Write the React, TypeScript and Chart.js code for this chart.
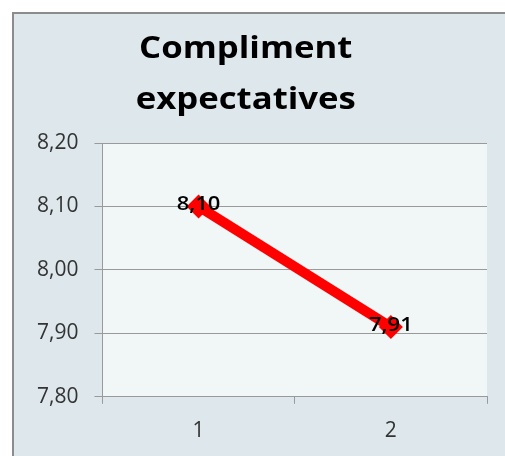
import React, { useEffect, useRef } from 'react';
import { Chart, registerables } from 'chart.js';

Chart.register(...registerables);

const categories: string[] = ['1', '2'];
const values: number[] = [8.1, 7.91];
const yTicks: number[] = [7.8, 7.9, 8.0, 8.1, 8.2];
const titleLines: string[] = ['Compliment', 'expectatives'];

const FONT = '"Open Sans", "Noto Sans", sans-serif';
const fmt = (v: number) => v.toFixed(2).replace('.', ',');

export default function App() {
  const ref = useRef<HTMLCanvasElement | null>(null);

  useEffect(() => {
    if (!ref.current) return;

    const bgPlugin = {
      id: 'plotBg',
      beforeDraw(chart: any) {
        const { ctx, chartArea } = chart;
        ctx.save();
        ctx.fillStyle = '#f1f6f7';
        ctx.fillRect(chartArea.left, chartArea.top, chartArea.right - chartArea.left, chartArea.bottom - chartArea.top);
        ctx.restore();
      },
    };

    const titlePlugin = {
      id: 'twoLineTitle',
      afterDraw(chart: any) {
        const { ctx } = chart;
        ctx.save();
        ctx.fillStyle = '#000';
        ctx.font = `bold 31px ${FONT}`;
        ctx.textAlign = 'center';
        ctx.textBaseline = 'alphabetic';
        const cx = chart.width * 0.472;
        ctx.translate(cx, 0);
        ctx.scale(1.12, 1);
        titleLines.forEach((t, i) => ctx.fillText(t, 0, 44 + i * 51));
        ctx.restore();
      },
    };

    const labelPlugin = {
      id: 'pointLabels',
      afterDatasetsDraw(chart: any) {
        const { ctx } = chart;
        const meta = chart.getDatasetMeta(0);
        ctx.save();
        ctx.fillStyle = '#000';
        ctx.font = `600 20px ${FONT}`;
        ctx.textAlign = 'center';
        ctx.textBaseline = 'middle';
        meta.data.forEach((pt: any, i: number) => {
          ctx.save();
          ctx.translate(pt.x, pt.y - 2);
          ctx.scale(1.1, 1);
          ctx.fillText(fmt(values[i]), 0, 0);
          ctx.restore();
        });
        ctx.restore();
      },
    };

    const chart = new Chart(ref.current, {
      type: 'line',
      data: {
        labels: categories,
        datasets: [
          {
            data: values,
            borderColor: '#ff0000',
            backgroundColor: '#ff0000',
            borderWidth: 10,
            pointStyle: 'rectRot',
            pointRadius: 12,
            pointHoverRadius: 12,
            pointBackgroundColor: '#ff0000',
            pointBorderColor: '#ff0000',
            pointBorderWidth: 0,
            tension: 0,
          },
        ],
      },
      options: {
        animation: false,
        responsive: false,
        events: [],
        layout: { padding: { top: 129, left: 7, right: 18, bottom: 0 } },
        plugins: {
          legend: { display: false },
          title: { display: false },
          tooltip: { enabled: false },
        },
        scales: {
          x: {
            offset: true,
            grid: {
              offset: true,
              drawOnChartArea: false,
              drawTicks: true,
              tickLength: 7,
              color: '#9a9a9a',
            },
            border: { display: true, color: '#9a9a9a' },
            ticks: {
              color: '#333',
              font: { family: FONT, size: 21 },
              padding: 15,
            },
          },
          y: {
            min: yTicks[0],
            max: yTicks[yTicks.length - 1],
            ticks: {
              stepSize: 0.1,
              color: '#333',
              font: { family: FONT, size: 21 },
              padding: 16,
              callback: (v: any) => fmt(Number(v)),
            },
            grid: {
              color: '#9a9a9a',
              tickLength: 8,
            },
            border: { display: true, color: '#9a9a9a' },
          },
        },
      },
      plugins: [bgPlugin, titlePlugin, labelPlugin],
    });

    return () => chart.destroy();
  }, []);

  return (
    <div
      style={{
        position: 'absolute',
        left: 12,
        top: 12,
        width: 493,
        height: 444,
        borderLeft: '2px solid #8c8c8c',
        borderTop: '2px solid #8c8c8c',
        background: '#dde7ec',
        boxSizing: 'border-box',
        overflow: 'hidden',
      }}
    >
      <canvas ref={ref} width={491} height={445} style={{ display: 'block' }} />
    </div>
  );
}
